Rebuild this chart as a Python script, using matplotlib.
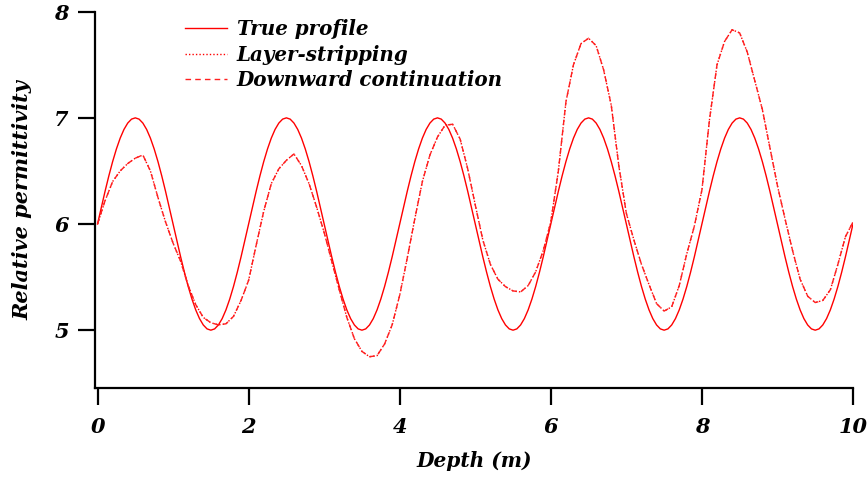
import matplotlib
matplotlib.use("Agg")
import matplotlib.pyplot as plt

# True profile sampled every 0.05 m
depth_true = [round(0.05 * i, 2) for i in range(201)]
true_profile = [
    6.000, 6.156, 6.309, 6.454, 6.588, 6.707, 6.809, 6.891, 6.951, 6.988,
    7.000, 6.988, 6.951, 6.891, 6.809, 6.707, 6.588, 6.454, 6.309, 6.156,
    6.000, 5.844, 5.691, 5.546, 5.412, 5.293, 5.191, 5.109, 5.049, 5.012,
    5.000, 5.012, 5.049, 5.109, 5.191, 5.293, 5.412, 5.546, 5.691, 5.844,
    6.000, 6.156, 6.309, 6.454, 6.588, 6.707, 6.809, 6.891, 6.951, 6.988,
    7.000, 6.988, 6.951, 6.891, 6.809, 6.707, 6.588, 6.454, 6.309, 6.156,
    6.000, 5.844, 5.691, 5.546, 5.412, 5.293, 5.191, 5.109, 5.049, 5.012,
    5.000, 5.012, 5.049, 5.109, 5.191, 5.293, 5.412, 5.546, 5.691, 5.844,
    6.000, 6.156, 6.309, 6.454, 6.588, 6.707, 6.809, 6.891, 6.951, 6.988,
    7.000, 6.988, 6.951, 6.891, 6.809, 6.707, 6.588, 6.454, 6.309, 6.156,
    6.000, 5.844, 5.691, 5.546, 5.412, 5.293, 5.191, 5.109, 5.049, 5.012,
    5.000, 5.012, 5.049, 5.109, 5.191, 5.293, 5.412, 5.546, 5.691, 5.844,
    6.000, 6.156, 6.309, 6.454, 6.588, 6.707, 6.809, 6.891, 6.951, 6.988,
    7.000, 6.988, 6.951, 6.891, 6.809, 6.707, 6.588, 6.454, 6.309, 6.156,
    6.000, 5.844, 5.691, 5.546, 5.412, 5.293, 5.191, 5.109, 5.049, 5.012,
    5.000, 5.012, 5.049, 5.109, 5.191, 5.293, 5.412, 5.546, 5.691, 5.844,
    6.000, 6.156, 6.309, 6.454, 6.588, 6.707, 6.809, 6.891, 6.951, 6.988,
    7.000, 6.988, 6.951, 6.891, 6.809, 6.707, 6.588, 6.454, 6.309, 6.156,
    6.000, 5.844, 5.691, 5.546, 5.412, 5.293, 5.191, 5.109, 5.049, 5.012,
    5.000, 5.012, 5.049, 5.109, 5.191, 5.293, 5.412, 5.546, 5.691, 5.844,
    6.000,
]

# Reconstructions sampled every 0.1 m
depth_rec = [round(0.1 * i, 1) for i in range(101)]
downward_continuation = [
    6.00, 6.22, 6.40, 6.50, 6.57, 6.62, 6.65, 6.50, 6.25, 6.02,
    5.82, 5.65, 5.42, 5.24, 5.12, 5.07, 5.05, 5.06, 5.13, 5.28,
    5.47, 5.80, 6.12, 6.38, 6.52, 6.60, 6.66, 6.55, 6.38, 6.16,
    5.92, 5.65, 5.38, 5.12, 4.92, 4.80, 4.75, 4.76, 4.87, 5.05,
    5.33, 5.68, 6.05, 6.40, 6.65, 6.82, 6.93, 6.94, 6.80, 6.52,
    6.18, 5.85, 5.62, 5.48, 5.41, 5.37, 5.36, 5.42, 5.55, 5.75,
    6.02, 6.50, 7.15, 7.50, 7.70, 7.75, 7.68, 7.45, 7.12, 6.55,
    6.10, 5.85, 5.62, 5.43, 5.25, 5.18, 5.22, 5.42, 5.72, 5.98,
    6.32, 6.98, 7.50, 7.72, 7.83, 7.80, 7.62, 7.35, 7.08, 6.72,
    6.36, 6.05, 5.75, 5.48, 5.32, 5.26, 5.28, 5.38, 5.62, 5.88,
    6.02,
]
layer_stripping = list(downward_continuation)

labels = ["True profile", "Layer-stripping", "Downward continuation"]
x_ticks = [0, 2, 4, 6, 8, 10]
y_ticks = [5, 6, 7, 8]

font = {"family": "DejaVu Serif", "weight": "bold", "style": "italic"}

W, H = 868, 479
fig = plt.figure(figsize=(W / 100, H / 100), dpi=100)
left, right, top, bottom = 94.5, 853, 11.7, 387.5
ax = fig.add_axes([left / W, 1 - bottom / H, (right - left) / W, (bottom - top) / H])

ax.plot(depth_true, true_profile, color="#ff0000", lw=1.0, ls="-", label=labels[0])
ax.plot(depth_rec, layer_stripping, color="#ff0000", lw=1.0, ls=(0, (1, 1.5)), label=labels[1])
ax.plot(depth_rec, downward_continuation, color="#ff2020", lw=1.0, ls=(0, (4, 3)), label=labels[2])

ax.set_xlim(-0.04, 10)
ax.set_ylim(4.46, 8)
ax.set_xticks(x_ticks)
ax.set_yticks(y_ticks)
ax.set_xticklabels([str(t) for t in x_ticks], fontsize=15, **font)
ax.set_yticklabels([str(t) for t in y_ticks], fontsize=15, **font)

for s in ["top", "right"]:
    ax.spines[s].set_visible(False)
for s in ["left", "bottom"]:
    ax.spines[s].set_linewidth(1.6)
ax.tick_params(axis="both", direction="out", length=12.5, width=1.6, color="black")
ax.tick_params(axis="y", pad=6)
ax.tick_params(axis="x", pad=9)

ax.set_xlabel("Depth (m)", fontsize=14.5, labelpad=10, **font)
ax.set_ylabel("Relative permittivity", fontsize=15, labelpad=16, **font)

lx = (185 - left) / (right - left)
ly = 1 - (19 - top) / (bottom - top)
leg = ax.legend(loc="upper left", bbox_to_anchor=(lx, ly), frameon=False,
                prop={"family": "DejaVu Serif", "weight": "bold", "style": "italic", "size": 14.3},
                handlelength=2.1, handletextpad=0.5, labelspacing=0.28,
                borderpad=0, borderaxespad=0)

fig.savefig("out.png", dpi=100)
